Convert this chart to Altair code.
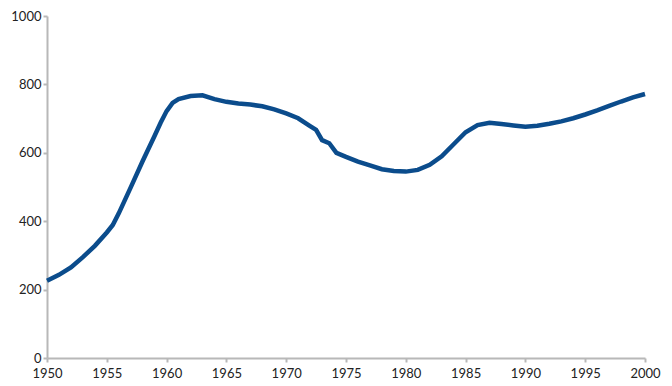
import altair as alt
import pandas as pd

years = [1950, 1951, 1952, 1953, 1954, 1955, 1955.5, 1956, 1957, 1958, 1959,
         1959.5, 1960, 1960.5, 1961, 1962, 1963, 1964, 1965, 1966, 1967, 1968, 1969,
         1970, 1971, 1972, 1972.5, 1973, 1973.6, 1974.2, 1975, 1976, 1977,
         1978, 1979, 1980, 1981, 1982, 1983, 1984, 1985, 1986, 1987,
         1988, 1989, 1990, 1991, 1992, 1993, 1994, 1995, 1996, 1997,
         1998, 1999, 2000]
values = [226, 243, 265, 295, 328, 367, 389, 423, 499, 576, 650,
          688, 722, 746, 757, 766, 768, 757, 749, 744, 741, 736, 727,
          715, 701, 678, 667, 637, 628, 600, 588, 574, 563,
          552, 547, 545, 550, 565, 590, 625, 660, 681, 688,
          684, 680, 676, 679, 685, 692, 701, 712, 724, 737,
          750, 762, 772]

x_ticks = [1950, 1955, 1960, 1965, 1970, 1975, 1980, 1985, 1990, 1995, 2000]
y_ticks = [0, 200, 400, 600, 800, 1000]

df = pd.DataFrame({"year": years, "value": values})

axis_common = dict(
    domainColor="#b8b8b8", domainWidth=2,
    tickColor="#b8b8b8", tickWidth=2, tickSize=4,
    labelFont="Lato", labelFontSize=13, labelColor="#222222",
    grid=False, title=None, labelFlush=False, format="d",
)

chart = alt.Chart(df).mark_line(color="#0b4c8c", strokeWidth=4.5).encode(
    x=alt.X("year:Q",
            scale=alt.Scale(domain=[1950, 2000], nice=False, zero=False),
            axis=alt.Axis(values=x_ticks, labelPadding=5, **axis_common)),
    y=alt.Y("value:Q",
            scale=alt.Scale(domain=[0, 1000], nice=False),
            axis=alt.Axis(values=y_ticks, labelPadding=2, **axis_common)),
).properties(
    width=598, height=342,
    autosize=alt.AutoSizeParams(type="none"),
    padding={"left": 39, "top": 8, "right": 19, "bottom": 22},
).configure_view(stroke=None)

chart.save("out.html", embed_options={"renderer": "svg", "actions": False})
